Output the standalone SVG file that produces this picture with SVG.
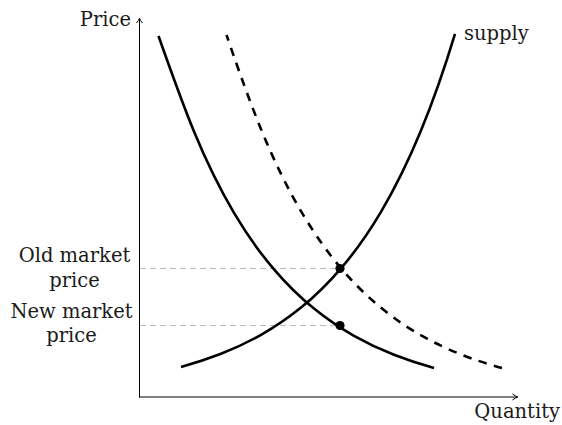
<svg xmlns="http://www.w3.org/2000/svg" width="562" height="425" viewBox="0 0 562 425">
<style>
text{font-family:"DejaVu Serif","Liberation Serif",serif;font-size:19.5px;fill:#1a1a1a}
.axis{stroke:#000;stroke-width:1;fill:none}
.curve{stroke:#000;stroke-width:2.6;fill:none;stroke-linecap:butt}
.dash{stroke-dasharray:8.5 7.5}
.guide{stroke:#bbb;stroke-width:1.2;stroke-dasharray:6 4;fill:none}
</style>
<rect width="562" height="425" fill="#fff"/>
<g id="guides">
<path class="guide" d="M140 268.5H340"/>
<path class="guide" d="M140 325.5H340"/>
</g>
<g id="axes">
<path class="axis" d="M139.5 397.5V18.5M139 397H517.5"/>
<path class="axis" d="M136.5 23Q138.7 20.5 139.5 18.3Q140.3 20.5 142.5 23"/>
<path class="axis" d="M512.5 394Q515.5 396.2 517.8 397Q515.5 397.8 512.5 400"/>
</g>
<g id="supply">
<path class="curve" d="M181 367C194.33 363.36 207.67 359.07 221 353.83C234.33 348.59 247.67 342.41 261 334.87C274.33 327.33 287.67 318.44 301 307.59C314.33 296.74 327.67 283.95 341 268.34C354.33 252.73 367.67 234.31 381 211.84C394.33 189.37 407.67 162.88 421 130.55C432.33 103.07 443.67 71.35 455 33.9"/>
</g>
<g id="demand-old">
<path class="curve" d="M434 368C420.67 364.36 407.33 360.07 394 354.83C380.67 349.59 367.33 343.41 354 335.87C340.67 328.33 327.33 319.44 314 308.59C300.67 297.74 287.33 284.95 274 269.34C260.67 253.73 247.33 235.31 234 212.84C220.67 190.37 207.33 163.88 194 131.55C182.67 104.07 171.33 72.35 158.5 36"/>
</g>
<g id="demand-new" transform="translate(68,0)">
<path class="curve dash" d="M434 368C420.67 364.36 407.33 360.07 394 354.83C380.67 349.59 367.33 343.41 354 335.87C340.67 328.33 327.33 319.44 314 308.59C300.67 297.74 287.33 284.95 274 269.34C260.67 253.73 247.33 235.31 234 212.84C220.67 190.37 207.33 163.88 194 131.55C182.67 104.07 171.33 72.35 158.5 35"/>
</g>
<g id="points">
<circle cx="340" cy="268.5" r="4.6" fill="#000"/>
<circle cx="340" cy="325.5" r="4.6" fill="#000"/>
</g>
<g id="labels">
<text x="131" y="25.5" text-anchor="end">Price</text>
<text x="464" y="40">supply</text>
<text x="560" y="418" text-anchor="end">Quantity</text>
<text x="74.5" y="262" text-anchor="middle">Old market</text>
<text x="74.5" y="287" text-anchor="middle">price</text>
<text x="71.5" y="318" text-anchor="middle">New market</text>
<text x="71.5" y="342" text-anchor="middle">price</text>
</g>
</svg>
